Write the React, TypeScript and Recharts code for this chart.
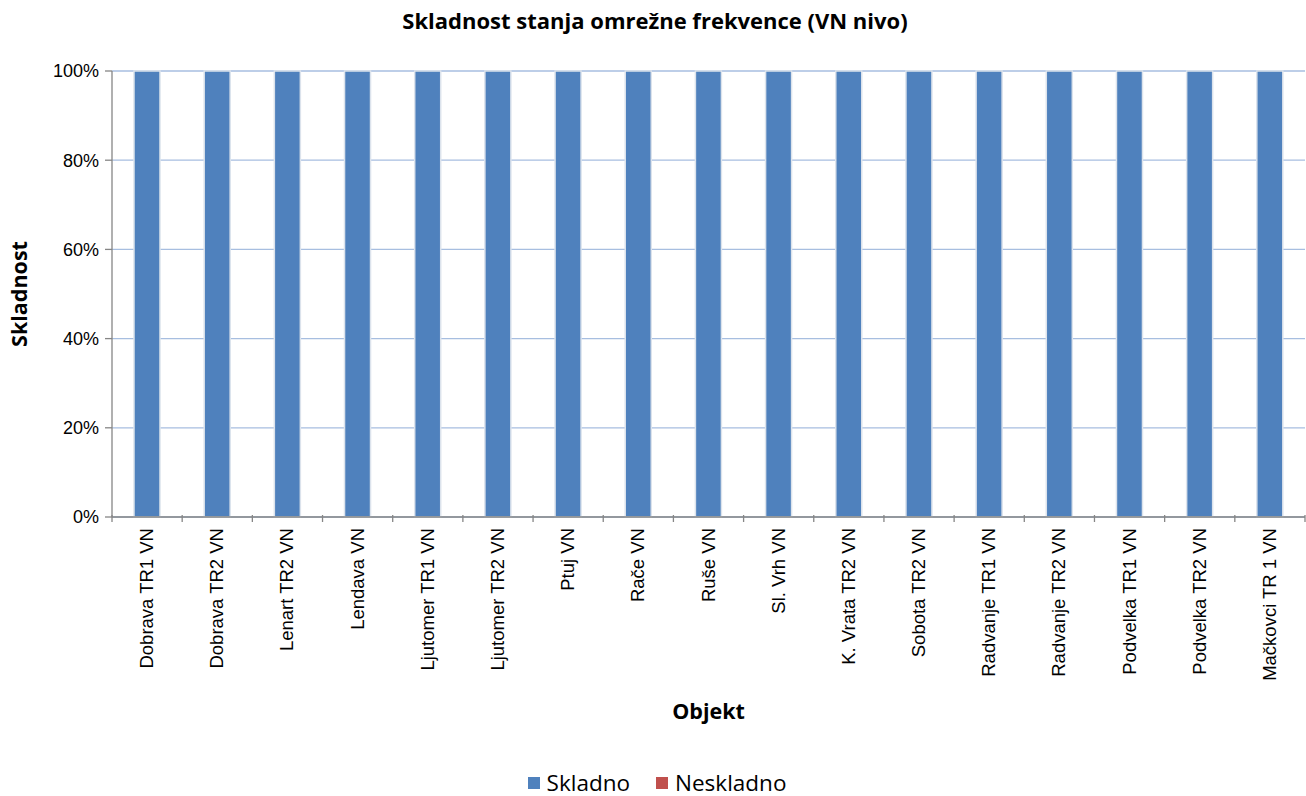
import React from "react";
import { Bar, BarChart, CartesianGrid, XAxis, YAxis, Label } from "recharts";

const objekti = [
    "Dobrava TR1 VN",
    "Dobrava TR2 VN",
    "Lenart TR2 VN",
    "Lendava VN",
    "Ljutomer TR1 VN",
    "Ljutomer TR2 VN",
    "Ptuj VN",
    "Rače VN",
    "Ruše VN",
    "Sl. Vrh VN",
    "K. Vrata TR2 VN",
    "Sobota TR2 VN",
    "Radvanje TR1 VN",
    "Radvanje TR2 VN",
    "Podvelka TR1 VN",
    "Podvelka TR2 VN",
    "Mačkovci TR 1 VN",
];

const skladno = [1, 1, 1, 1, 1, 1, 1, 1, 1, 1, 1, 1, 1, 1, 1, 1, 1];
const neskladno = [0, 0, 0, 0, 0, 0, 0, 0, 0, 0, 0, 0, 0, 0, 0, 0, 0];

const yTicks = [0, 0.2, 0.4, 0.6, 0.8, 1];

const data = objekti.map((name, i) => ({
    name,
    skladno: skladno[i],
    neskladno: neskladno[i],
}));

const W = 1306;
const H = 796;
const margin = { top: 71, right: 1, left: 52, bottom: 0 };
const yAxisWidth = 60;
// half of one category band, used to put tick marks between categories
const halfBand = (W - margin.left - margin.right - yAxisWidth) / objekti.length / 2;

const font = "'Liberation Sans', Arial, sans-serif";
const titleFont = "'Open Sans', 'Liberation Sans', sans-serif";

const CategoryTick = (props: any) => {
    const { x, y, payload, index } = props;
    const axisY = y - 8;
    return (
        <g>
            <line x1={x - halfBand} x2={x - halfBand} y1={axisY - 2} y2={axisY + 5} stroke="#868686" strokeWidth={1.3} />
            {index === objekti.length - 1 && (
                <line x1={x + halfBand} x2={x + halfBand} y1={axisY - 2} y2={axisY + 5} stroke="#868686" strokeWidth={1.3} />
            )}
            <text
                x={x + 6}
                y={y + 3}
                transform={`rotate(-90, ${x + 6}, ${y + 3})`}
                textAnchor="end"
                fontSize={18.5}
                fontFamily={font}
                fill="#000"
            >
                {payload.value}
            </text>
        </g>
    );
};

const LegendBox = () => (
    <div
        style={{
            position: "absolute",
            top: 769,
            left: 0,
            width: W,
            display: "flex",
            justifyContent: "center",
            gap: 26,
            fontFamily: titleFont,
            fontSize: 22.5,
            lineHeight: "28px",
            color: "#000",
            paddingLeft: 8,
            boxSizing: "border-box",
        }}
    >
        <span style={{ display: "flex", alignItems: "center" }}>
            <span style={{ width: 12, height: 12, background: "#4F81BD", marginRight: 7 }} />
            Skladno
        </span>
        <span style={{ display: "flex", alignItems: "center" }}>
            <span style={{ width: 12, height: 12, background: "#C0504D", marginRight: 7 }} />
            Neskladno
        </span>
    </div>
);

export default function App() {
    return (
        <div style={{ position: "absolute", left: 0, top: 0, width: W, height: H, background: "#fff" }}>
            <div
                style={{
                    position: "absolute",
                    top: 4,
                    left: 0,
                    width: W,
                    textAlign: "center",
                    fontFamily: titleFont,
                    fontWeight: 700,
                    fontSize: 22,
                    lineHeight: "32px",
                    paddingLeft: 4,
                    boxSizing: "border-box",
                }}
            >
                Skladnost stanja omrežne frekvence (VN nivo)
            </div>
            <BarChart width={W} height={H} data={data} margin={margin} barSize={26}>
                <CartesianGrid vertical={false} stroke="#A7BEE0" strokeWidth={1.3} />
                <XAxis
                    dataKey="name"
                    interval={0}
                    height={279}
                    tick={<CategoryTick />}
                    tickLine={false}
                    tickSize={6}
                    axisLine={{ stroke: "#868686", strokeWidth: 1.3 }}
                >
                    <Label
                        value="Objekt"
                        position="insideTop"
                        offset={187}
                        style={{ fontFamily: titleFont, fontWeight: 700, fontSize: 21.5, fill: "#000" }}
                    />
                </XAxis>
                <YAxis
                    width={yAxisWidth}
                    domain={[0, 1]}
                    ticks={yTicks}
                    interval={0}
                    tickFormatter={(v) => `${Math.round(v * 100)}%`}
                    tick={{ fontFamily: font, fontSize: 18, fill: "#000" }}
                    tickLine={{ stroke: "#868686", strokeWidth: 1.3 }}
                    tickSize={7}
                    tickMargin={6}
                    axisLine={{ stroke: "#868686", strokeWidth: 1.3 }}
                >
                    <Label
                        value="Skladnost"
                        angle={-90}
                        position="insideLeft"
                        offset={-33}
                        style={{ fontFamily: titleFont, fontWeight: 700, fontSize: 21.5, fill: "#000", textAnchor: "middle" }}
                    />
                </YAxis>
                <Bar
                    dataKey="skladno"
                    stackId="a"
                    fill="#4F81BD"
                    stroke="#DCE3EC"
                    strokeWidth={1.5}
                    isAnimationActive={false}
                />
                <Bar dataKey="neskladno" stackId="a" fill="#C0504D" isAnimationActive={false} />
            </BarChart>
            <LegendBox />
        </div>
    );
}
